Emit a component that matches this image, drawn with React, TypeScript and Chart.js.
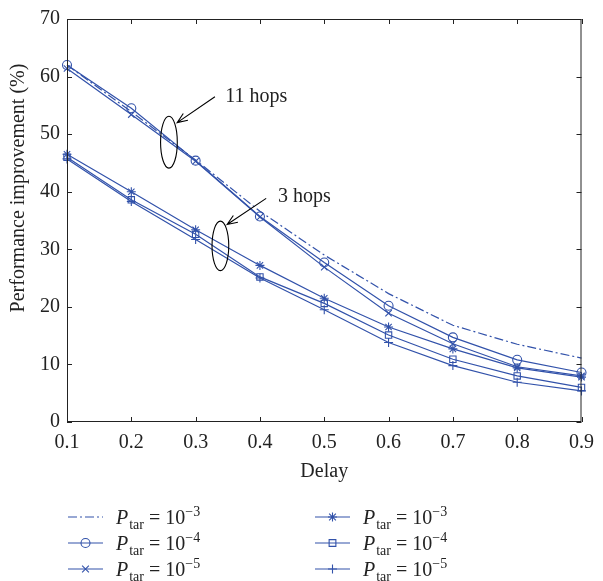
import { useEffect, useRef } from 'react';
import { Chart, registerables } from 'chart.js';

Chart.register(...registerables);

// ---- data ----
const delays = ['0.1', '0.2', '0.3', '0.4', '0.5', '0.6', '0.7', '0.8', '0.9'];
const yTickValues = [0, 10, 20, 30, 40, 50, 60, 70];

// 11 hops
const hops11P3 = [62.0, 53.9, 45.5, 36.6, 29.0, 22.3, 16.8, 13.5, 11.1];
const hops11P4 = [62.0, 54.5, 45.4, 35.7, 27.7, 20.2, 14.7, 10.8, 8.6];
const hops11P5 = [61.4, 53.4, 45.3, 35.6, 26.9, 18.9, 13.6, 9.6, 8.0];
// 3 hops
const hops3P3 = [46.5, 40.0, 33.4, 27.2, 21.5, 16.5, 12.7, 9.4, 7.8];
const hops3P4 = [46.0, 38.6, 32.6, 25.2, 20.6, 15.1, 10.9, 8.0, 6.0];
const hops3P5 = [45.7, 38.3, 31.7, 25.0, 19.5, 13.8, 9.8, 6.9, 5.4];

const legendExponents = ['\u22123', '\u22124', '\u22125'];
const xTitle = 'Delay';
const yTitle = 'Performance improvement (%)';

// annotations in data units (x = category index, y = value)
const ellipses = [
  { cx: 1.585, cy: 48.6, rx: 0.13, ry: 4.5 },
  { cx: 2.385, cy: 30.6, rx: 0.13, ry: 4.3 },
];
const arrows = [
  { x0: 2.3, y0: 56.5, x1: 1.713, y1: 52.0 },
  { x0: 3.097, y0: 38.85, x1: 2.49, y1: 34.3 },
];
const notes = [
  { x: 2.46, y: 55.5, text: '11 hops' },
  { x: 3.28, y: 38.3, text: '3 hops' },
];

const BLUE = 'rgb(50,82,170)';
const INK = '#222';
const FONT = '"Liberation Serif", "DejaVu Serif", serif';

function drawMarker(ctx: CanvasRenderingContext2D, style: string, x: number, y: number, r: number) {
  ctx.beginPath();
  if (style === 'circle') {
    ctx.arc(x, y, r, 0, Math.PI * 2);
  } else if (style === 'rect') {
    ctx.rect(x - r * 0.75, y - r * 0.75, r * 1.5, r * 1.5);
  } else {
    const d = r * 0.75;
    if (style === 'cross' || style === 'star') {
      ctx.moveTo(x - r, y);
      ctx.lineTo(x + r, y);
      ctx.moveTo(x, y - r);
      ctx.lineTo(x, y + r);
    }
    if (style === 'crossRot' || style === 'star') {
      ctx.moveTo(x - d, y - d);
      ctx.lineTo(x + d, y + d);
      ctx.moveTo(x + d, y - d);
      ctx.lineTo(x - d, y + d);
    }
  }
  ctx.stroke();
}

const decorPlugin = {
  id: 'decor',
  afterDraw(chart: any) {
    const { ctx, chartArea } = chart;
    const xs = chart.scales.x;
    const ys = chart.scales.y;
    const { left, right, top, bottom } = chartArea;
    ctx.save();
    // box
    ctx.strokeStyle = INK;
    ctx.lineWidth = 1;
    ctx.strokeRect(left + 0.5, top + 0.5, right - left - 1, bottom - top - 1);
    // inward ticks
    ctx.beginPath();
    xs.ticks.forEach((_t: any, i: number) => {
      const px = Math.round(xs.getPixelForTick(i)) + 0.5;
      ctx.moveTo(px, bottom);
      ctx.lineTo(px, bottom - 5);
      ctx.moveTo(px, top);
      ctx.lineTo(px, top + 5);
    });
    ys.ticks.forEach((_t: any, i: number) => {
      const py = Math.round(ys.getPixelForTick(i)) + 0.5;
      ctx.moveTo(left, py);
      ctx.lineTo(left + 5, py);
      ctx.moveTo(right, py);
      ctx.lineTo(right - 5, py);
    });
    ctx.stroke();

    // annotations
    ctx.strokeStyle = '#000';
    ctx.lineWidth = 1.1;
    ellipses.forEach((e) => {
      const cx = xs.getPixelForValue(e.cx);
      const cy = ys.getPixelForValue(e.cy);
      const rx = Math.abs(xs.getPixelForValue(e.cx + e.rx) - cx);
      const ry = Math.abs(ys.getPixelForValue(e.cy + e.ry) - cy);
      ctx.beginPath();
      ctx.ellipse(cx, cy, rx, ry, 0, 0, Math.PI * 2);
      ctx.stroke();
    });
    arrows.forEach((a) => {
      const x0 = xs.getPixelForValue(a.x0);
      const y0 = ys.getPixelForValue(a.y0);
      const x1 = xs.getPixelForValue(a.x1);
      const y1 = ys.getPixelForValue(a.y1);
      const ang = Math.atan2(y1 - y0, x1 - x0);
      const hl = 11;
      const ha = 0.38;
      ctx.beginPath();
      ctx.moveTo(x0, y0);
      ctx.lineTo(x1, y1);
      ctx.moveTo(x1 - hl * Math.cos(ang - ha), y1 - hl * Math.sin(ang - ha));
      ctx.lineTo(x1, y1);
      ctx.lineTo(x1 - hl * Math.cos(ang + ha), y1 - hl * Math.sin(ang + ha));
      ctx.stroke();
    });
    ctx.fillStyle = INK;
    ctx.font = `20px ${FONT}`;
    ctx.textAlign = 'left';
    ctx.textBaseline = 'alphabetic';
    notes.forEach((n) => {
      ctx.fillText(n.text, xs.getPixelForValue(n.x), ys.getPixelForValue(n.y));
    });

    // axis titles
    ctx.textAlign = 'center';
    ctx.textBaseline = 'alphabetic';
    ctx.fillText(xTitle, (left + right) / 2, 477);
    ctx.save();
    ctx.translate(24, 188);
    ctx.rotate(-Math.PI / 2);
    ctx.fillText(yTitle, 0, 0);
    ctx.restore();

    // legend
    const rows = [517, 543, 569];
    const cols = [
      { lx0: 68, lx1: 103, tx: 116 },
      { lx0: 315, lx1: 350, tx: 363 },
    ];
    const styles = [
      [
        { dash: [9, 3, 2, 3], marker: 'none' },
        { dash: [], marker: 'circle' },
        { dash: [], marker: 'crossRot' },
      ],
      [
        { dash: [], marker: 'star' },
        { dash: [], marker: 'rect' },
        { dash: [], marker: 'cross' },
      ],
    ];
    cols.forEach((c, ci) => {
      rows.forEach((ry, ri) => {
        const st = styles[ci][ri];
        ctx.save();
        ctx.strokeStyle = BLUE;
        ctx.lineWidth = 1.2;
        ctx.setLineDash(st.dash);
        ctx.beginPath();
        ctx.moveTo(c.lx0, ry);
        ctx.lineTo(c.lx1, ry);
        ctx.stroke();
        ctx.setLineDash([]);
        if (st.marker !== 'none') {
          ctx.lineWidth = 1.1;
          drawMarker(ctx, st.marker, (c.lx0 + c.lx1) / 2, ry, 4.5);
        }
        ctx.restore();
        // text
        ctx.fillStyle = INK;
        ctx.textAlign = 'left';
        ctx.textBaseline = 'alphabetic';
        const base = ry + 7;
        let x = c.tx;
        ctx.font = `italic 20px ${FONT}`;
        ctx.fillText('P', x, base);
        x += ctx.measureText('P').width + 1;
        ctx.font = `14px ${FONT}`;
        ctx.fillText('tar', x, base + 5);
        x += ctx.measureText('tar').width;
        ctx.font = `20px ${FONT}`;
        const eq = ' = 10';
        ctx.fillText(eq, x, base);
        x += ctx.measureText(eq).width;
        ctx.font = `14px ${FONT}`;
        ctx.fillText(legendExponents[ri], x, base - 8);
      });
    });
    ctx.restore();
  },
};

function ds(data: number[], pointStyle: string | false, dash: number[] = []) {
  return {
    data,
    borderColor: BLUE,
    backgroundColor: 'rgba(0,0,0,0)',
    pointBorderColor: BLUE,
    pointBackgroundColor: 'rgba(0,0,0,0)',
    borderWidth: 1.2,
    pointBorderWidth: 1.1,
    pointRadius: pointStyle ? 4.5 : 0,
    pointStyle: pointStyle || 'circle',
    borderDash: dash,
    tension: 0,
    fill: false,
  };
}

export default function App() {
  const ref = useRef<HTMLCanvasElement | null>(null);
  useEffect(() => {
    if (!ref.current) return;
    const chart = new Chart(ref.current, {
      type: 'line',
      data: {
        labels: delays,
        datasets: [
          ds(hops11P3, false, [9, 3, 2, 3]),
          ds(hops11P4, 'circle'),
          ds(hops11P5, 'crossRot'),
          ds(hops3P3, 'star'),
          ds(hops3P4, 'rect'),
          ds(hops3P5, 'cross'),
        ] as any,
      },
      options: {
        animation: false,
        responsive: false,
        devicePixelRatio: 1,
        layout: { padding: { top: 13, right: 16, left: 0, bottom: 0 } },
        plugins: { legend: { display: false }, tooltip: { enabled: false } },
        scales: {
          x: {
            type: 'category',
            offset: false,
            grid: { display: false, drawTicks: false },
            border: { display: false },
            ticks: {
              color: INK,
              font: { family: FONT, size: 20 },
              padding: 9,
              maxRotation: 0,
              autoSkip: false,
            },
            afterFit: (s: any) => {
              s.height = 159;
            },
          },
          y: {
            type: 'linear',
            min: 0,
            max: 70,
            grid: { display: false, drawTicks: false },
            border: { display: false },
            afterBuildTicks: (s: any) => {
              s.ticks = yTickValues.map((v) => ({ value: v }));
            },
            ticks: {
              color: INK,
              font: { family: FONT, size: 20 },
              padding: 7,
            },
            afterFit: (s: any) => {
              s.width = 67;
            },
          },
        },
      },
      plugins: [decorPlugin],
    });
    return () => chart.destroy();
  }, []);
  return (
    <div style={{ position: 'absolute', left: 0, top: 0, width: 603, height: 581, background: '#fff' }}>
      <canvas ref={ref} width={603} height={581} style={{ width: 603, height: 581, display: 'block' }} />
    </div>
  );
}
